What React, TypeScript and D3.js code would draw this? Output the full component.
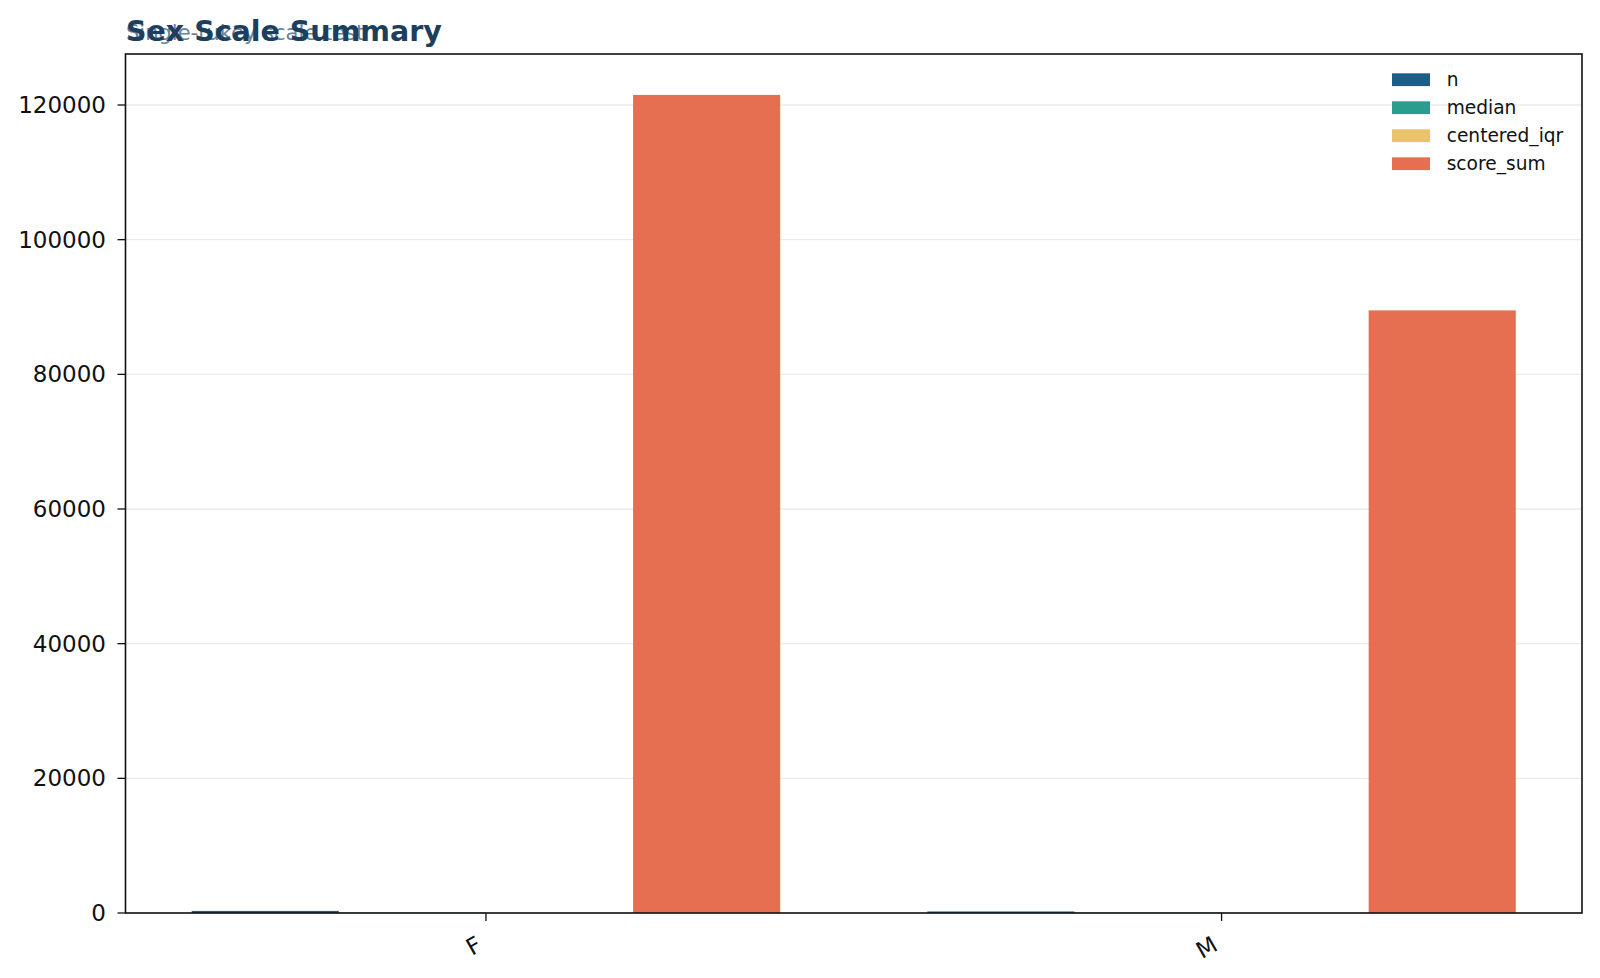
import React from "react";
import * as d3 from "d3";

const categories = ["F", "M"];
const seriesNames = ["n", "median", "centered_iqr", "score_sum"];
const nValues = [310, 230];
const medianValues = [55, 54];
const centeredIqrValues = [12, 11];
const scoreSumValues = [121500, 89500];
const yTicks = [0, 20000, 40000, 60000, 80000, 100000, 120000];
const colors = ["#1f5b85", "#2a9d8f", "#e9c46a", "#e76f51"];

const W = 1600;
const H = 978;
const M = { left: 125.5, right: 1582, top: 54, bottom: 913 };

export default function App() {
  const series = [nValues, medianValues, centeredIqrValues, scoreSumValues];
  const x = d3.scaleLinear().domain([-0.49, 1.49]).range([M.left, M.right]);
  const y = d3.scaleLinear().domain([0, 127575]).range([M.bottom, M.top]);
  const bw = 0.2;
  const offsets = [-0.3, -0.1, 0.1, 0.3];
  const font = "DejaVu Sans, sans-serif";

  return (
    <svg width={W} height={H} style={{ position: "absolute", left: 0, top: 0 }} fontFamily={font}>
      <rect width={W} height={H} fill="#fff" />
      {yTicks.map((t) => (
        <line key={"g" + t} x1={M.left} x2={M.right} y1={y(t)} y2={y(t)} stroke="#ebebeb" strokeWidth={1.3} />
      ))}
      {series.map((vals, si) =>
        vals.map((v, ci) => {
          const x0 = x(ci + offsets[si] - bw / 2);
          const x1 = x(ci + offsets[si] + bw / 2);
          return (
            <rect key={si + "-" + ci} x={x0} width={x1 - x0} y={y(v)} height={y(0) - y(v)} fill={colors[si]} />
          );
        })
      )}
      <rect x={M.left} y={M.top} width={M.right - M.left} height={M.bottom - M.top} fill="none" stroke="#111" strokeWidth={1.6} />
      {yTicks.map((t) => (
        <g key={"t" + t}>
          <line x1={M.left - 8} x2={M.left} y1={y(t)} y2={y(t)} stroke="#111" strokeWidth={1.3} />
          <text x={M.left - 19.5} y={y(t)} dy="0.35em" textAnchor="end" fontSize={23} fill="#111">
            {t}
          </text>
        </g>
      ))}
      {categories.map((c, i) => (
        <g key={c}>
          <line x1={x(i)} x2={x(i)} y1={M.bottom} y2={M.bottom + 8} stroke="#111" strokeWidth={1.3} />
          <text
            transform={`translate(${x(i) - 11},${M.bottom + 21.5}) rotate(-30)`}
            textAnchor="end"
            dy="0.75em"
            fontSize={23}
            fill="#111"
          >
            {c}
          </text>
        </g>
      ))}
      <text x={126} y={40} fontSize={21} fill="#5a7590" opacity={0.9}>
        Single-tukey scale test
      </text>
      <text x={126} y={40.5} fontSize={28.5} fontWeight="bold" fill="#1d3f5e">
        Sex Scale Summary
      </text>
      {seriesNames.map((s, i) => (
        <g key={s} transform={`translate(1392,${79.7 + i * 28})`}>
          <rect x={0} y={-6.4} width={38} height={12.8} fill={colors[i]} />
          <text x={54.7} y={0} dy="0.35em" fontSize={18.6} fill="#111">
            {s}
          </text>
        </g>
      ))}
    </svg>
  );
}
